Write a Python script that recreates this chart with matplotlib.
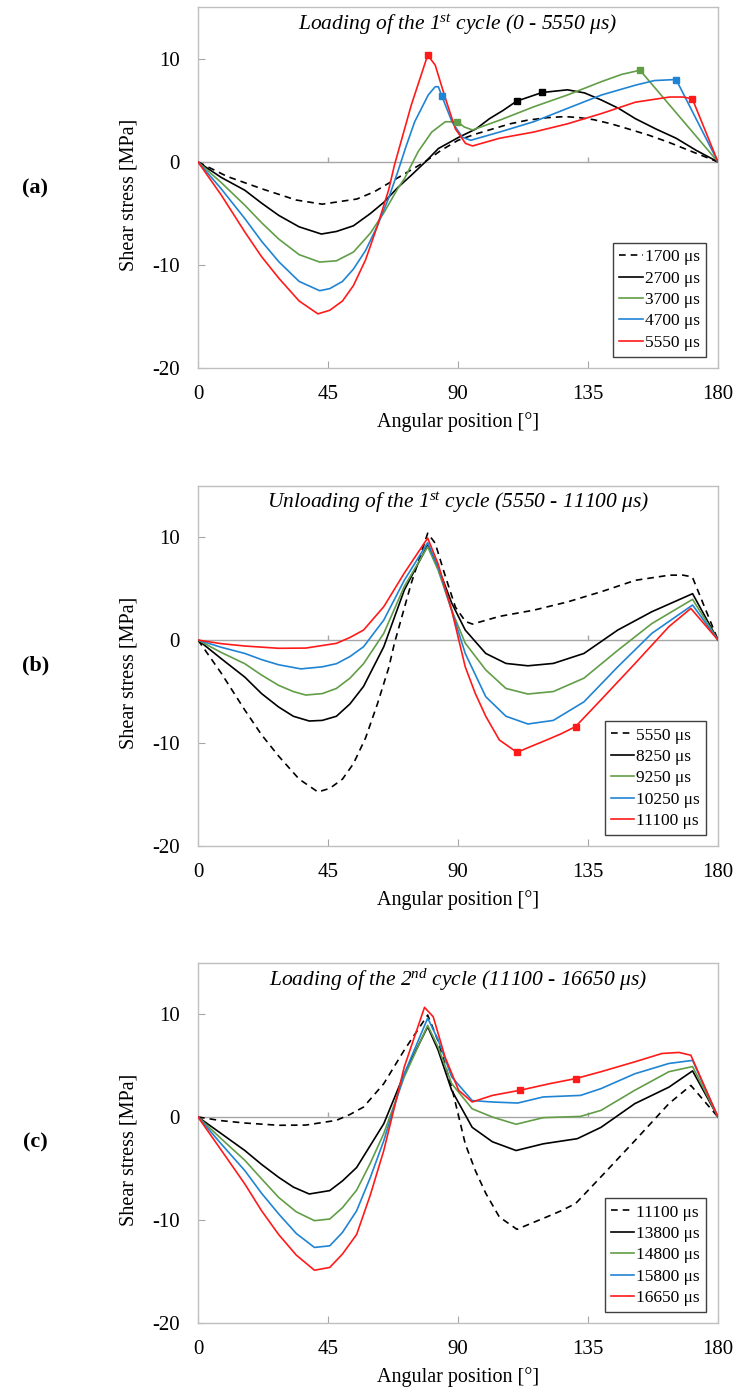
import numpy as np
import matplotlib.pyplot as plt

plt.rcParams['font.family'] = 'Liberation Serif'
plt.rcParams['mathtext.fontset'] = 'custom'
plt.rcParams['mathtext.rm'] = 'Liberation Serif'
plt.rcParams['mathtext.it'] = 'Liberation Serif:italic'
plt.rcParams['axes.unicode_minus'] = False
plt.rcParams['font.size'] = 13

# ---------------------------------------------------------------
# Shear stress along the contact (angle in deg, stress in MPa)
# ---------------------------------------------------------------

# (a) loading of the 1st cycle
ang_a1700 = [0, 10, 22, 34, 43, 55, 61, 67, 73, 78.5, 84, 90, 96, 102, 108, 114, 121, 127, 132, 137, 143, 149, 156, 163, 171, 180]
val_a1700 = [0, -1.4, -2.6, -3.7, -4.1, -3.6, -2.9, -1.9, -0.9, 0, 1.1, 2.1, 2.7, 3.2, 3.7, 4.05, 4.3, 4.4, 4.3, 4.1, 3.7, 3.2, 2.6, 1.9, 1.0, 0]

ang_a2700 = [0, 8, 16.2, 22, 28, 35, 42.7, 47.9, 53.8, 59.7, 64.4, 69.1, 73.8, 78.5, 83.2, 90.3, 96.2, 100.9, 105.6, 110.3, 119.1, 127.9, 133.8, 139.7, 145.6, 151.4, 158.5, 165.5, 172.6, 180]
val_a2700 = [0, -1.5, -2.75, -4.0, -5.2, -6.3, -7.0, -6.75, -6.2, -5.0, -3.9, -2.5, -1.3, -0.05, 1.3, 2.4, 3.2, 4.2, 5.0, 5.9, 6.74, 7.0, 6.7, 6.0, 5.2, 4.2, 3.2, 2.3, 1.1, 0]
mk_a2700 = [110.3, 119.1]

ang_a3700 = [0, 8, 16.2, 22, 28, 35, 42.1, 47.9, 53.8, 59.7, 64.4, 69.1, 71.5, 76.2, 80.9, 85.6, 89.8, 92.1, 95, 104.4, 116.2, 127.9, 139.7, 146.7, 153, 180]
val_a3700 = [0, -2.0, -4.2, -5.9, -7.5, -9.0, -9.72, -9.6, -8.75, -6.9, -4.9, -2.6, -1.6, 1.0, 2.9, 3.9, 3.9, 3.4, 3.1, 4.05, 5.35, 6.5, 7.8, 8.5, 8.9, 0]
mk_a3700 = [89.8, 153]

ang_a4700 = [0, 8, 16.2, 22, 28, 35, 42.1, 45.6, 50, 53.8, 58, 62.1, 66, 69.1, 72, 75, 79.7, 82.1, 83.2, 84.4, 87.9, 91.5, 94.4, 104.4, 116.2, 127.9, 139.7, 151.4, 158, 165.5, 180]
val_a4700 = [0, -2.6, -5.5, -7.7, -9.7, -11.6, -12.5, -12.3, -11.6, -10.4, -8.6, -6.2, -3.5, -1.0, 1.5, 3.9, 6.5, 7.3, 7.3, 6.4, 3.9, 2.4, 2.1, 2.9, 3.9, 5.2, 6.5, 7.45, 7.9, 8.0, 0]
mk_a4700 = [84.4, 165.5]

ang_a5550 = [0, 8, 16.2, 22, 28, 35, 41.5, 45.6, 50, 53.8, 58, 62.1, 66, 68, 73.8, 79.5, 82.1, 85.6, 89.1, 92.6, 95, 104.4, 116.2, 127.9, 139.7, 151.4, 163.2, 167.9, 171.1, 180]
val_a5550 = [0, -3.2, -6.8, -9.2, -11.3, -13.5, -14.75, -14.4, -13.5, -12.0, -9.5, -6.2, -2.7, -0.3, 5.5, 10.37, 9.4, 6.2, 3.2, 1.8, 1.55, 2.3, 2.9, 3.7, 4.7, 5.8, 6.3, 6.3, 6.13, 0]
mk_a5550 = [79.5, 171.1]

# (b) unloading of the 1st cycle (starts from the 5550 us state)
ang_b8250 = [0, 8, 16.2, 22, 27.9, 33, 38.5, 43, 47.9, 52.6, 57.3, 64.3, 71.4, 79.5, 83.1, 87.8, 92.5, 99.6, 106.6, 114.2, 123, 133.6, 145.3, 157.1, 171.2, 180]
val_b8250 = [0, -1.8, -3.6, -5.2, -6.5, -7.4, -7.86, -7.8, -7.4, -6.2, -4.5, -0.65, 4.85, 9.2, 7.1, 3.6, 0.97, -1.3, -2.27, -2.5, -2.27, -1.3, 0.97, 2.75, 4.5, 0]

ang_b9250 = [0, 8, 16.2, 22, 27.9, 33, 37.3, 43, 47.9, 52.6, 57.3, 64.3, 71.4, 79.5, 83.1, 87.8, 92.5, 99.6, 106.6, 114.2, 123, 133.6, 145.3, 157.1, 171.2, 180]
val_b9250 = [0, -1.2, -2.3, -3.4, -4.4, -5.0, -5.34, -5.2, -4.7, -3.7, -2.3, 0.65, 5.2, 9.06, 6.8, 2.9, -0.3, -2.9, -4.7, -5.24, -5.0, -3.7, -1.0, 1.6, 3.95, 0]

ang_b10250 = [0, 8, 16.2, 22, 27.9, 35.6, 43, 47.9, 52.6, 57.3, 64.3, 71.4, 79.5, 83.1, 87.8, 92.5, 99.6, 106.6, 114.2, 123, 133.6, 145.3, 157.1, 171.2, 180]
val_b10250 = [0, -0.7, -1.3, -1.9, -2.4, -2.8, -2.6, -2.3, -1.6, -0.65, 1.94, 5.8, 9.45, 7.1, 2.9, -1.3, -5.5, -7.4, -8.15, -7.8, -6.0, -2.6, 0.65, 3.4, 0]

ang_b11100 = [0, 8, 16.2, 27.9, 37.3, 47.9, 52.6, 57.3, 64.3, 71.4, 79.5, 83.1, 87.8, 92.5, 96, 99.6, 104.3, 110.4, 115.5, 120.7, 125.7, 130.7, 139.5, 151.2, 163, 170.6, 180]
val_b11100 = [0, -0.35, -0.58, -0.8, -0.78, -0.32, 0.25, 0.97, 3.24, 6.5, 9.9, 7.4, 2.9, -2.6, -5.2, -7.4, -9.7, -10.9, -10.3, -9.7, -9.1, -8.4, -5.8, -2.3, 1.3, 3.07, 0]
mk_b11100 = [110.4, 130.7]

# (c) loading of the 2nd cycle (starts from the 11100 us state)
ang_c13800 = [0, 8, 16.2, 22, 27.9, 33, 38.5, 45.6, 50, 54.9, 64.3, 71.4, 79.5, 83.1, 87.8, 94.9, 101.9, 110.1, 119.5, 131.3, 139.5, 151.2, 163, 171.2, 180]
val_c13800 = [0, -1.6, -3.25, -4.6, -5.85, -6.8, -7.47, -7.14, -6.2, -4.9, -0.65, 4.2, 8.77, 6.5, 2.6, -1.0, -2.4, -3.25, -2.6, -2.1, -1.0, 1.3, 2.9, 4.48, 0]

ang_c14800 = [0, 8, 16.2, 22, 27.9, 34, 40.3, 45.6, 50, 54.9, 59.6, 64.3, 71.4, 79.5, 83.1, 87.8, 94.9, 101.9, 110.1, 119.5, 132.4, 139.5, 151.2, 163, 171.2, 180]
val_c14800 = [0, -2.1, -4.2, -6.0, -7.8, -9.2, -10.06, -9.9, -8.8, -7.1, -4.5, -1.6, 3.9, 8.9, 6.8, 3.25, 0.8, 0, -0.7, -0.06, 0.06, 0.65, 2.6, 4.4, 4.9, 0]

ang_c15800 = [0, 8, 16.2, 22, 27.9, 34, 40.3, 45.6, 50, 54.9, 59.6, 64.3, 71.4, 79.5, 83.1, 87.8, 94.9, 101.9, 110.7, 119.5, 132.4, 139.5, 151.2, 163, 171.2, 180]
val_c15800 = [0, -2.6, -5.2, -7.4, -9.4, -11.3, -12.66, -12.5, -11.2, -9.1, -5.9, -2.3, 4.2, 9.6, 7.5, 3.9, 1.6, 1.46, 1.36, 1.95, 2.1, 2.76, 4.2, 5.2, 5.5, 0]

ang_c16650 = [0, 8, 16.2, 22, 27.9, 34, 40.3, 45.6, 50, 54.9, 59.6, 64.3, 71.4, 78.4, 81.4, 85.5, 90.2, 94.9, 101.9, 111.5, 121.9, 130.7, 139.5, 151.2, 160.6, 166.5, 170.6, 180]
val_c16650 = [0, -3.2, -6.5, -9.1, -11.4, -13.4, -14.87, -14.6, -13.3, -11.4, -7.6, -3.25, 4.87, 10.65, 9.74, 5.84, 2.6, 1.46, 2.1, 2.6, 3.25, 3.73, 4.4, 5.36, 6.17, 6.27, 6.0, 0]
mk_c16650 = [111.5, 130.7]

x_ticks = [0, 45, 90, 135, 180]
y_ticks = [-20, -10, 0, 10]

BLACK = '#000000'
GREEN = '#629D47'
BLUE = '#1F84D4'
RED = '#FF1A1A'
DASH = (0, (4, 3))

panels = [
    ('(a)', 'Loading of the 1$^{st}$ cycle (0 - 5550 μs)', [
        ('1700 μs', ang_a1700, val_a1700, BLACK, DASH, []),
        ('2700 μs', ang_a2700, val_a2700, BLACK, '-', mk_a2700),
        ('3700 μs', ang_a3700, val_a3700, GREEN, '-', mk_a3700),
        ('4700 μs', ang_a4700, val_a4700, BLUE, '-', mk_a4700),
        ('5550 μs', ang_a5550, val_a5550, RED, '-', mk_a5550),
    ]),
    ('(b)', 'Unloading of the 1$^{st}$ cycle (5550 - 11100 μs)', [
        ('5550 μs', ang_a5550, val_a5550, BLACK, DASH, []),
        ('8250 μs', ang_b8250, val_b8250, BLACK, '-', []),
        ('9250 μs', ang_b9250, val_b9250, GREEN, '-', []),
        ('10250 μs', ang_b10250, val_b10250, BLUE, '-', []),
        ('11100 μs', ang_b11100, val_b11100, RED, '-', mk_b11100),
    ]),
    ('(c)', 'Loading of the 2$^{nd}$ cycle (11100 - 16650 μs)', [
        ('11100 μs', ang_b11100, val_b11100, BLACK, DASH, []),
        ('13800 μs', ang_c13800, val_c13800, BLACK, '-', []),
        ('14800 μs', ang_c14800, val_c14800, GREEN, '-', []),
        ('15800 μs', ang_c15800, val_c15800, BLUE, '-', []),
        ('16650 μs', ang_c16650, val_c16650, RED, '-', mk_c16650),
    ]),
]

FRAME = '#BFBFBF'
AXIS = '#A6A6A6'

fig = plt.figure(figsize=(7.34, 13.98), dpi=100)
bottoms = [0.7368, 0.3948, 0.0536]
label_y = [0.8655, 0.5243, 0.1831]

for (tag, title, curves), b, ly in zip(panels, bottoms, label_y):
    ax = fig.add_axes([0.2698, b, 0.7084, 0.2579])
    handles = []
    for lab, ang, val, col, ls, marks in curves:
        ang = np.array(ang)
        val = np.array(val)
        ln, = ax.plot(ang, val, color=col, ls=ls, lw=1.2, zorder=3, label=lab)
        handles.append(ln)
        if marks:
            idx = [int(np.argmin(np.abs(ang - m))) for m in marks]
            ax.plot(ang[idx], val[idx], ls='none', marker='s', ms=4.5,
                    color=col, zorder=4)

    # horizontal axis crossing at zero, ticks pointing up
    ax.axhline(0, color=AXIS, lw=1, zorder=1)
    inner = x_ticks[1:-1]
    ax.plot(inner, np.zeros(len(inner)), ls='none', marker=[(0, 0), (0, 1)],
            ms=7, mec=AXIS, mew=1, zorder=1)

    ax.set_xlim(0, 180)
    ax.set_ylim(-20, 15)
    ax.set_xticks(x_ticks)
    ax.set_yticks(y_ticks)
    ax.tick_params(axis='both', direction='in', length=5, color=AXIS,
                   labelsize=15)
    ax.tick_params(axis='x', pad=12)
    ax.tick_params(axis='y', pad=13)
    for sp in ax.spines.values():
        sp.set_color(FRAME)
        sp.set_linewidth(1)

    ax.set_xlabel('Angular position [°]', fontsize=14.5)
    ax.set_ylabel('Shear stress [MPa]', fontsize=14.5)
    ax.xaxis.set_label_coords(0.5, -0.122)
    ax.yaxis.set_label_coords(-0.115, 0.48)

    ax.text(0.5, 0.952, title, transform=ax.transAxes, ha='center',
            va='center', fontsize=15.5, fontstyle='italic')

    leg = ax.legend(handles=handles, loc='lower right',
                    bbox_to_anchor=(1 - 12 / 520, 11 / 360), borderaxespad=0,
                    fancybox=False, framealpha=1, edgecolor='#404040',
                    handlelength=1.35, handletextpad=0.12, labelspacing=0.3,
                    borderpad=0.35, fontsize=12.5)
    leg.get_frame().set_linewidth(1)

    fig.text(0.048, ly, tag, ha='center', va='center', fontsize=16,
             fontweight='bold')

fig.savefig('out.png', dpi=100)
